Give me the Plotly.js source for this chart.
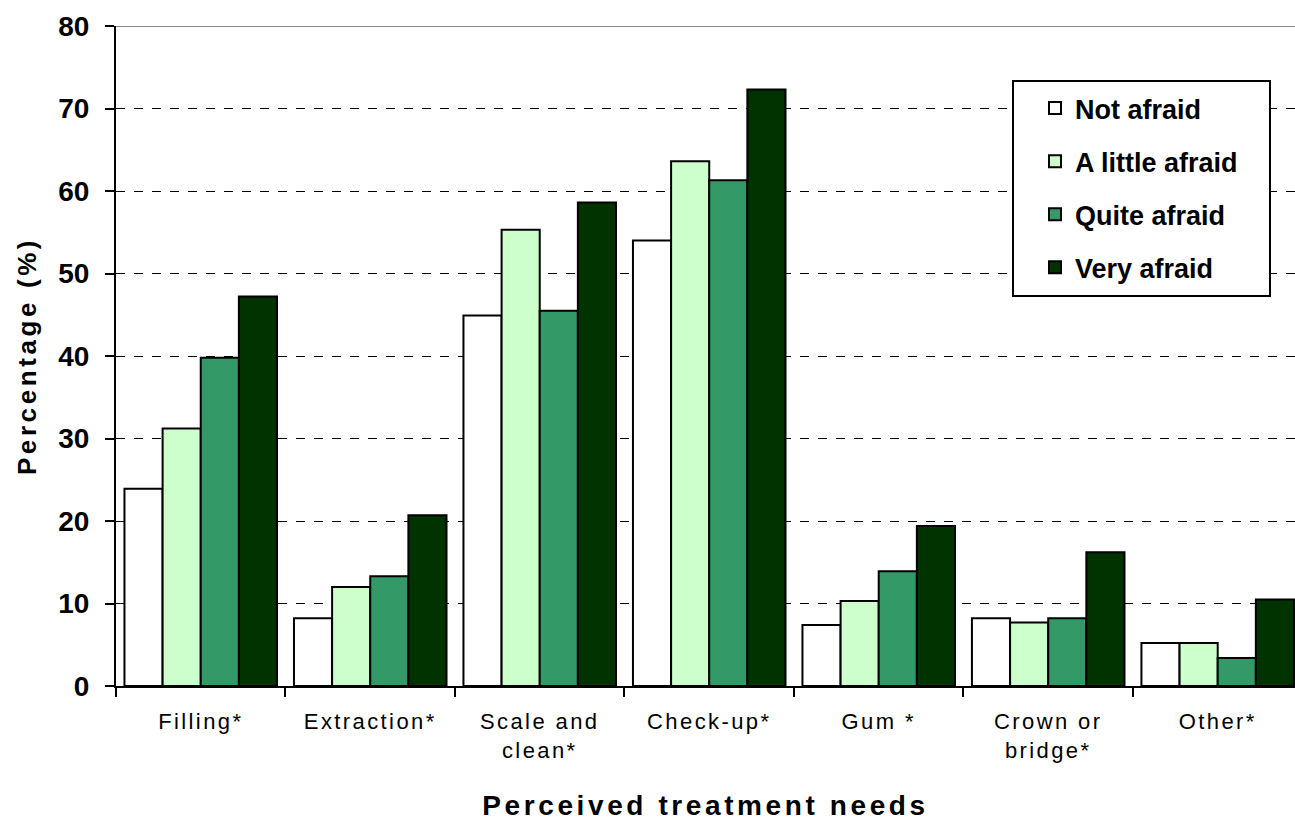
<!DOCTYPE html>
<html>
<head>
<meta charset="utf-8">
<script src="https://cdn.plot.ly/plotly-3.0.1.min.js"></script>
<style>
html,body{margin:0;padding:0;background:#fff;}
.xtick text{letter-spacing:2.4px;}
text.xtitle{letter-spacing:3.6px;}
text.ytitle{letter-spacing:3.6px;}
</style>
</head>
<body>
<div id="chart" style="width:1295px;height:821px;"></div>
<script>
const categories = ["Filling*", "Extraction*", "Scale and<br>clean*", "Check-up*", "Gum *", "Crown or<br>bridge*", "Other*"];
const seriesNames = ["Not afraid", "A little afraid", "Quite afraid", "Very afraid"];
const notAfraid = [23.9, 8.2, 44.9, 54.0, 7.4, 8.2, 5.2];
const littleAfraid = [31.2, 12.0, 55.3, 63.6, 10.3, 7.7, 5.2];
const quiteAfraid = [39.8, 13.3, 45.5, 61.3, 13.9, 8.2, 3.4];
const veryAfraid = [47.2, 20.7, 58.6, 72.3, 19.4, 16.2, 10.5];
const colors = ["#FFFFFF", "#CCFFCC", "#339966", "#003300"];
const yTicks = [0, 10, 20, 30, 40, 50, 60, 70, 80];

const values = [notAfraid, littleAfraid, quiteAfraid, veryAfraid];
const traces = values.map((v, i) => ({
  type: "bar",
  name: seriesNames[i],
  x: categories,
  y: v,
  legendgroup: "g" + i,
  marker: {color: colors[i], line: {color: "#000", width: 2}},
  hoverinfo: "x+y+name"
}));

const layout = {
  width: 1295, height: 821,
  margin: {l: 116, r: 0, t: 26, b: 135},
  paper_bgcolor: "#fff", plot_bgcolor: "#fff",
  barmode: "group", bargap: 0.1, bargroupgap: 0,
  font: {family: "Liberation Sans, Arial, sans-serif", color: "#000"},
  xaxis: {
    type: "category",
    range: [-0.5, 6.456],
    showline: true, linecolor: "#000", linewidth: 2,
    ticks: "outside", tickson: "boundaries", ticklen: 9, tickwidth: 2, tickcolor: "#000",
    tickfont: {size: 22, family: "Liberation Sans, Arial, sans-serif"},
    ticklabelstandoff: 15,
    showgrid: false,
    title: {text: "<b>Perceived treatment needs</b>", font: {size: 28}, standoff: 34}
  },
  yaxis: {
    range: [0, 80],
    tickvals: yTicks,
    showline: true, linecolor: "#000", linewidth: 2,
    ticks: "outside", ticklen: 9, tickwidth: 2, tickcolor: "#000",
    tickfont: {size: 28, family: "Liberation Sans, Arial, sans-serif", weight: "bold"},
    ticklabelstandoff: 10,
    showgrid: true, gridcolor: "#000", gridwidth: 1, griddash: "dash",
    zeroline: false,
    title: {text: "<b>Percentage (%)</b>", font: {size: 26}, standoff: 14}
  },
  shapes: [
    {type: "line", xref: "paper", yref: "y", x0: 0, x1: 1, y0: 80, y1: 80,
     line: {color: "#888", width: 2}},
    {type: "rect", xref: "paper", yref: "paper", layer: "above",
     x0: (1013 - 116) / 1179, x1: (1270 - 116) / 1179,
     y0: (686 - 296) / 660, y1: (686 - 81) / 660,
     fillcolor: "#fff", line: {color: "#000", width: 2}}
  ],
  showlegend: true,
  legend: {
    x: (1035 - 116) / 1179, y: (686 - 84) / 660, xanchor: "left", yanchor: "top",
    bgcolor: "rgba(0,0,0,0)", borderwidth: 0,
    font: {size: 27, family: "Liberation Sans, Arial, sans-serif", weight: "bold"},
    traceorder: "grouped", tracegroupgap: 15,
    itemwidth: 30
  }
};

Plotly.newPlot("chart", traces, layout, {displayModeBar: false, staticPlot: true});
</script>
</body>
</html>
